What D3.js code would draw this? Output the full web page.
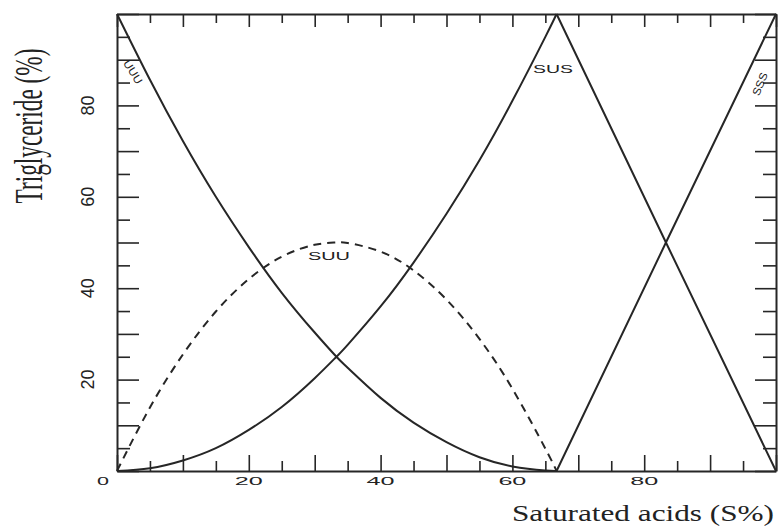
<!DOCTYPE html>
<html>
    <head>
        <meta charset="utf-8">
        <title> Triglyceride distribution </title>
        <script type="text/javascript" src="https://d3js.org/d3.v7.min.js"></script>
        <style>
            body {margin: 0; background: #fff;}
            svg text {fill: #222;}
        </style>
    </head>
    <body>
        <script>
            // values (S% on x, triglyceride % on y)
            var sLow   = [0, 5, 10, 15, 20, 25, 30, 33.3, 35, 40, 45, 50, 55, 60, 65, 66.7];
            var uuu    = [100, 85.6, 72.2, 60, 49, 39, 30.3, 25, 22.6, 16, 10.6, 6.3, 3, 1, 0.1, 0];
            var susLow = [0, 0.6, 2.3, 5, 9, 14, 20.3, 25, 27.6, 36, 45.6, 56.3, 68, 81, 95, 100];
            var suu    = [0, 13.9, 25.5, 34.9, 42, 46.9, 49.5, 50, 49.9, 48, 43.9, 37.5, 28.9, 18, 4.9, 0];
            var sHigh   = [66.7, 83.3, 100];
            var susHigh = [100, 50, 0];
            var sss     = [0, 50, 100];

            var xTickLabels = [0, 20, 40, 60, 80];
            var yTickLabels = [20, 40, 60, 80];

            var svg = d3.select("body")
                        .append("svg")
                        .attr("width", 778)
                        .attr("height", 528);

            var x = d3.scaleLinear().domain([0, 100]).range([117, 776]);
            var y = d3.scaleLinear().domain([0, 100]).range([471, 14]);
            var ticks = d3.range(0, 101, 5);
            var ink = "#262626";

            function styleAxis(g, attr, big, small) {
                g.select(".domain").attr("stroke", ink).attr("stroke-width", 2);
                g.selectAll(".tick line")
                    .attr("stroke", ink)
                    .attr("stroke-width", 1.6)
                    .attr(attr, function(d) { return d % 10 === 0 ? big : small; });
                g.selectAll(".tick text").remove();
            }

            svg.append("g").attr("transform", "translate(0," + y(0) + ")")
                .call(d3.axisBottom(x).tickValues(ticks).tickSize(0))
                .call(styleAxis, "y2", -16, -10);
            svg.append("g").attr("transform", "translate(0," + y(100) + ")")
                .call(d3.axisTop(x).tickValues(ticks).tickSize(0))
                .call(styleAxis, "y2", 13, 9);
            svg.append("g").attr("transform", "translate(" + x(0) + ",0)")
                .call(d3.axisLeft(y).tickValues(ticks).tickSize(0))
                .call(styleAxis, "x2", 22, 13);
            svg.append("g").attr("transform", "translate(" + x(100) + ",0)")
                .call(d3.axisRight(y).tickValues(ticks).tickSize(0))
                .call(styleAxis, "x2", -21, -13);

            // tick labels
            svg.selectAll(".xlab")
                .data(xTickLabels)
                .enter()
                .append("text")
                    .attr("class", "xlab")
                    .attr("x", function(d) { return d === 0 ? x(0) - 14 : x(d); })
                    .attr("y", 485)
                    .attr("text-anchor", "middle")
                    .attr("font-family", "Liberation Sans, Arial, sans-serif")
                    .attr("font-size", 11)
                    .attr("textLength", function(d) { return d === 0 ? 12 : 28; })
                    .attr("lengthAdjust", "spacingAndGlyphs")
                    .text(function(d) { return d; });

            svg.selectAll(".ylab")
                .data(yTickLabels)
                .enter()
                .append("text")
                    .attr("class", "ylab")
                    .attr("transform", function(d) { return "translate(94," + y(d) + ") rotate(-90)"; })
                    .attr("text-anchor", "middle")
                    .attr("font-family", "Liberation Sans, Arial, sans-serif")
                    .attr("font-size", 19)
                    .attr("textLength", 20)
                    .attr("lengthAdjust", "spacingAndGlyphs")
                    .text(function(d) { return d; });

            // axis titles
            svg.append("text")
                .attr("transform", "translate(42,126) scale(1.75,1) rotate(-90)")
                .attr("text-anchor", "middle")
                .attr("font-family", "Liberation Serif, Times New Roman, serif")
                .attr("font-size", 23)
                .attr("textLength", 155)
                .attr("lengthAdjust", "spacingAndGlyphs")
                .text("Triglyceride (%)");

            svg.append("text")
                .attr("x", 512)
                .attr("y", 521)
                .attr("font-family", "Liberation Serif, Times New Roman, serif")
                .attr("font-size", 23)
                .attr("textLength", 262)
                .attr("lengthAdjust", "spacingAndGlyphs")
                .text("Saturated acids (S%)");

            // curves
            function series(xs, ys) {
                return xs.map(function(v, i) { return [v, ys[i]]; });
            }
            var smooth = d3.line()
                .x(function(d) { return x(d[0]); })
                .y(function(d) { return y(d[1]); })
                .curve(d3.curveNatural);
            var straight = d3.line()
                .x(function(d) { return x(d[0]); })
                .y(function(d) { return y(d[1]); });

            var curves = [
                {pts: series(sLow, uuu), gen: smooth, dash: null},
                {pts: series(sLow, susLow), gen: smooth, dash: null},
                {pts: series(sLow, suu), gen: smooth, dash: "8,6"},
                {pts: series(sHigh, susHigh), gen: straight, dash: null},
                {pts: series(sHigh, sss), gen: straight, dash: null}
            ];

            svg.selectAll(".curve")
                .data(curves)
                .enter()
                .append("path")
                    .attr("class", "curve")
                    .attr("d", function(d) { return d.gen(d.pts); })
                    .attr("fill", "none")
                    .attr("stroke", ink)
                    .attr("stroke-width", 2)
                    .attr("stroke-dasharray", function(d) { return d.dash; });

            // curve names
            var names = [
                {t: "UUU", tr: "translate(133,72) rotate(58)", len: 26, fs: 11},
                {t: "SUS", tr: "translate(553,73)", len: 40, fs: 11},
                {t: "SUU", tr: "translate(329,260)", len: 42, fs: 10},
                {t: "SSS", tr: "translate(760,84) rotate(-68)", len: 24, fs: 11}
            ];
            svg.selectAll(".name")
                .data(names)
                .enter()
                .append("text")
                    .attr("class", "name")
                    .attr("transform", function(d) { return d.tr; })
                    .attr("text-anchor", "middle")
                    .attr("dy", function(d) { return d.tr.indexOf("rotate") >= 0 ? "0.35em" : 0; })
                    .attr("font-family", "Liberation Sans, Arial, sans-serif")
                    .attr("font-size", function(d) { return d.fs; })
                    .attr("textLength", function(d) { return d.len; })
                    .attr("lengthAdjust", "spacingAndGlyphs")
                    .text(function(d) { return d.t; });
        </script>
    </body>
</html>
